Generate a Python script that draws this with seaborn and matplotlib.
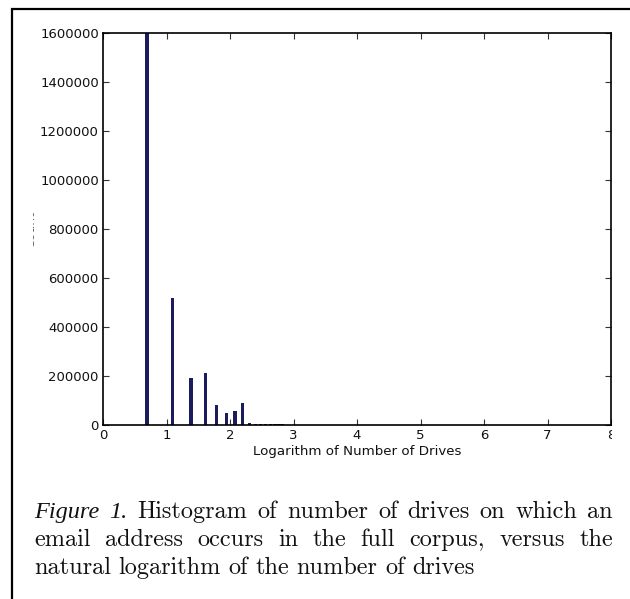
import numpy as np
import pandas as pd
import matplotlib
matplotlib.use("Agg")
import matplotlib.pyplot as plt
import seaborn as sns
from matplotlib.transforms import Bbox
from matplotlib.patches import Rectangle

# number of drives an address occurs on, and how many addresses
n_drives = [2, 3, 4, 5, 6, 7, 8, 9, 10, 11, 12, 13, 14, 15, 16, 17, 18, 19, 20]
n_addresses = [1650000, 520000, 190000, 212000, 81000, 49000, 57000, 90000,
               7000, 6000, 5000, 4500, 4000, 3500, 3000, 2500, 2000, 2000, 1500]

x_ticks = [0, 1, 2, 3, 4, 5, 6, 7, 8]
y_ticks = [0, 200000, 400000, 600000, 800000, 1000000, 1200000, 1400000, 1600000]

caption_lines = [
    ["Figure", "1.", "Histogram", "of", "number", "of", "drives", "on", "which", "an"],
    ["email", "address", "occurs", "in", "the", "full", "corpus,", "versus", "the"],
    ["natural", "logarithm", "of", "the", "number", "of", "drives"],
]
italic_words = 2  # "Figure 1." is set in italics

W, H = 630, 599
sns.set_style("white")
plt.rcParams["font.family"] = ["DejaVu Sans"]

df = pd.DataFrame({"log_drives": np.log(n_drives), "count": n_addresses})

# narrow bins centred on every value, empty bins between them
bar_w = 0.05
edges = np.sort(np.concatenate([df["log_drives"] - bar_w / 2,
                                df["log_drives"] + bar_w / 2])).tolist()

fig = plt.figure(figsize=(W / 100, H / 100), dpi=100)
ax = fig.add_axes([103 / W, 1 - 425 / H, (611 - 103) / W, (425 - 33) / H])

sns.histplot(data=df, x="log_drives", weights="count", bins=edges, stat="count",
             color="#1b1b5e", alpha=1, linewidth=0, ax=ax)

ax.set_xlim(0, 8)
ax.set_ylim(0, 1600000)
ax.set_xticks(x_ticks)
ax.set_yticks(y_ticks)
ax.ticklabel_format(axis="y", style="plain", useOffset=False)
ax.tick_params(direction="in", length=4, width=0.8, top=True, right=True,
               labelsize=9.5, color="#333333", labelcolor="#111111", pad=3,
               bottom=True, left=True)
for s in ax.spines.values():
    s.set_color("black")
    s.set_linewidth(1.2)
ax.set_xlabel("Logarithm of Number of Drives", fontsize=9.6, labelpad=2, color="#111111")
ax.set_ylabel("Count", fontsize=9, color="#666666", labelpad=2)

# the chart image was cropped on its left and right sides
crop = Bbox.from_extents(33, 0, 612, H)
fig.canvas.draw()
for lab in ax.get_xticklabels():
    lab.set_clip_box(crop)
    lab.set_clip_on(True)
ax.yaxis.label.set_clip_box(crop)
ax.yaxis.label.set_clip_on(True)

# page frame around figure and caption
fig.add_artist(Rectangle((12 / W, -0.1), 1.2, 1 - 9 / H + 0.1, transform=fig.transFigure,
                         fill=False, edgecolor="black", linewidth=1.6))

# justified caption
left, right = 34, 613
baselines = [518, 546, 574]
renderer = fig.canvas.get_renderer()
for i, words in enumerate(caption_lines):
    texts = []
    for j, w in enumerate(words):
        if i == 0 and j < italic_words:
            t = fig.text(0, 0, w, fontsize=17.5, family="Liberation Serif",
                         style="italic", va="baseline", ha="left", color="#111111")
        else:
            t = fig.text(0, 0, w, fontsize=17.5, family="cmr10",
                         va="baseline", ha="left", color="#111111")
        texts.append(t)
    widths = [t.get_window_extent(renderer).width for t in texts]
    if i < len(caption_lines) - 1:
        gap = (right - left - sum(widths)) / (len(words) - 1)
    else:
        gap = 7.5
    x = left
    for t, w in zip(texts, widths):
        t.set_position((x / W, 1 - baselines[i] / H))
        x += w + gap

fig.savefig("out.png", dpi=100)
